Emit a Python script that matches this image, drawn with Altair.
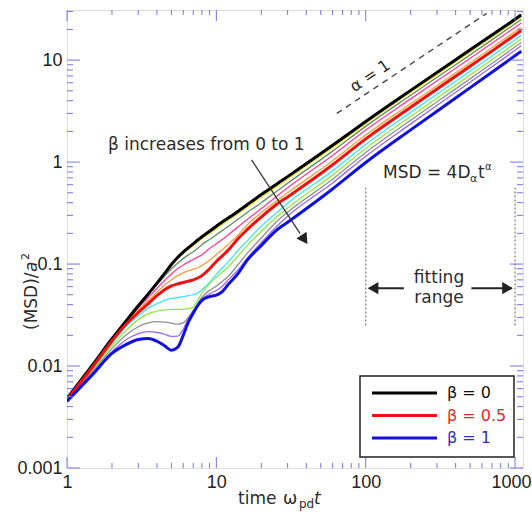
import altair as alt
import pandas as pd

# ---------------------------------------------------------------------------
# Mean-squared displacement curves, one per beta value (time in 1/omega_pd)
# ---------------------------------------------------------------------------
time_grid = [1, 1.5, 2, 2.5, 3, 3.5, 4, 4.5, 5, 5.5, 6, 6.5, 7, 7.5, 8, 9, 10,
             11, 12, 14, 16, 20, 25, 30, 60, 100, 200, 400, 700, 1100]

msd_b00 = [.0048, .0105, .0185, .028, .039, .051, .065, .081, .099, .116, .131, .145, .158, .172, .185, .21, .235,
           .26, .283, .33, .38, .48, .60, .72, 1.46, 2.5, 5.05, 10.1, 17.6, 27.7]
msd_b01 = [.0048, .0105, .0185, .028, .039, .051, .065, .080, .097, .113, .127, .140, .152, .165, .177, .199, .222,
           .245, .267, .312, .358, .452, .565, .68, 1.38, 2.38, 4.82, 9.6, 16.75, 26.4]
msd_b02 = [.0048, .0104, .0184, .0278, .0385, .050, .063, .076, .090, .102, .113, .123, .132, .143, .155, .174, .194,
           .214, .234, .276, .318, .40, .51, .62, 1.28, 2.24, 4.52, 9.0, 15.8, 25.0]
msd_b03 = [.0048, .0103, .0182, .0273, .037, .047, .058, .069, .080, .090, .098, .105, .111, .117, .123, .142, .158,
           .175, .193, .232, .272, .35, .455, .56, 1.16, 2.06, 4.17, 8.33, 14.62, 23.1]
msd_b04 = [.0047, .0102, .018, .0268, .0355, .044, .053, .062, .070, .077, .082, .086, .089, .092, .097, .109, .124,
           .139, .156, .193, .24, .32, .41, .50, 1.03, 1.84, 3.74, 7.5, 13.2, 21.0]
msd_b05 = [.0047, .0100, .0176, .026, .0335, .041, .049, .056, .061, .064, .066, .068, .070, .073, .077, .090, .106,
           .121, .137, .178, .216, .29, .38, .455, .94, 1.69, 3.45, 6.95, 12.25, 19.5]
msd_b06 = [.0047, .0098, .0168, .0245, .031, .037, .041, .044, .046, .047, .048, .049, .050, .052, .056, .066, .079,
           .092, .105, .137, .168, .236, .315, .395, .82, 1.49, 3.07, 6.2, 10.97, 17.5]
msd_b07 = [.0046, .0094, .0158, .0225, .0285, .0325, .0345, .0355, .036, .036, .036, .0365, .038, .044, .052, .064, .074,
           .084, .094, .12, .15, .21, .285, .355, .745, 1.36, 2.8, 5.68, 10.09, 16.1]
msd_b08 = [.0046, .0090, .0148, .0203, .0243, .0265, .0272, .0270, .0263, .0258, .0265, .030, .035, .041, .047, .055, .061,
           .068, .076, .099, .126, .18, .256, .322, .678, 1.24, 2.57, 5.22, 9.28, 14.85]
msd_b09 = [.0045, .0087, .0138, .0182, .0208, .0217, .0214, .0205, .0195, .0196, .023, .029, .035, .040, .045, .051, .055,
           .061, .070, .088, .113, .163, .23, .295, .625, 1.14, 2.37, 4.83, 8.61, 13.8]
msd_b10 = [.0045, .0084, .0133, .0163, .0182, .0186, .0175, .0158, .0143, .0152, .020, .027, .033, .039, .044, .048, .0495,
           .054, .063, .081, .108, .152, .212, .257, .545, .99, 2.07, 4.25, 7.6, 12.2]

beta_labels = ["0", "0.1", "0.2", "0.3", "0.4", "0.5", "0.6", "0.7", "0.8", "0.9", "1"]
beta_colors = ["#000000", "#e4e42a", "#5e8e5e", "#ff3d9a", "#ff9a3c", "#ee1111",
               "#40e6f0", "#8eec40", "#8f8f8f", "#9a66ee", "#1010e0"]
msd_series = [msd_b00, msd_b01, msd_b02, msd_b03, msd_b04, msd_b05,
              msd_b06, msd_b07, msd_b08, msd_b09, msd_b10]
bold_betas = ["0", "0.5", "1"]

# alpha = 1 guide line
guide_t = [64, 645]
guide_msd = [3.0, 28.7]

# fitting window
fit_t = [100, 1000]
fit_lo, fit_hi = 0.025, 0.56
fit_arrow_level = 0.058

# beta arrow
beta_arrow_t = [17.2, 36.3]
beta_arrow_msd = [1.05, 0.20]
beta_head = (38.3, 0.18)

# legend entries
legend_text = ["\u03b2 = 0", "\u03b2 = 0.5", "\u03b2 = 1"]
legend_color = ["#000000", "#ee1111", "#1010e0"]
legend_label_color = ["#111111", "#e02a2a", "#3030c8"]

# axis ticks
x_major = [1, 10, 100, 1000]
x_minor = [k * 10 ** e for e in range(0, 4) for k in range(2, 10) if k * 10 ** e <= 1130]
y_major = [0.001, 0.01, 0.1, 1, 10]
y_minor = [k * 10.0 ** e for e in range(-3, 2) for k in range(2, 10) if k * 10.0 ** e <= 31]

W, H = 456, 458
FONT = "DejaVu Sans"
TICK_FONT = "Liberation Sans"
FRAME = "#7474ea"
INK = "#2b2b2b"

rows = []
for lab, series in zip(beta_labels, msd_series):
    for t, v in zip(time_grid, series):
        rows.append({"t": t, "msd": v, "beta": lab})
curves = pd.DataFrame(rows)

x_scale = alt.Scale(type="log", domain=[1, 1130], nice=False)
y_scale = alt.Scale(type="log", domain=[0.001, 31], nice=False)

axis_x = alt.Axis(values=x_major, format="~g", domain=False, ticks=False, grid=False,
                  labelFont=TICK_FONT, labelFontSize=18, labelColor="#222222", labelPadding=5,
                  labelFlush=False, title=None,
                  labelOffset={"condition": {"test": "datum.value >= 1000", "value": -4}, "value": 0})
axis_y = alt.Axis(values=y_major, format="~g", domain=False, ticks=False, grid=False,
                  labelFont=TICK_FONT, labelFontSize=18, labelColor="#222222", labelPadding=5,
                  labelFlush=False, title=None, labelBaseline="middle")


def X(field):
    return alt.X(field, scale=x_scale, axis=axis_x)


def Y(field):
    return alt.Y(field, scale=y_scale, axis=axis_y)


color = alt.Color("beta:N", scale=alt.Scale(domain=beta_labels, range=beta_colors), legend=None)

thin = (
    alt.Chart(curves[~curves["beta"].isin(bold_betas)])
    .mark_line(strokeWidth=1.3, interpolate="monotone", clip=True)
    .encode(x=X("t:Q"), y=Y("msd:Q"), color=color, detail="beta:N")
)

thick = (
    alt.Chart(curves[curves["beta"].isin(bold_betas)])
    .mark_line(interpolate="monotone", clip=True)
    .encode(
        x=X("t:Q"), y=Y("msd:Q"), color=color,
        strokeWidth=alt.StrokeWidth("beta:N", scale=alt.Scale(domain=bold_betas, range=[3.0, 3.0, 3.8]),
                                    legend=None),
        detail="beta:N",
    )
)

guide = (
    alt.Chart(pd.DataFrame({"t": guide_t, "msd": guide_msd}))
    .mark_line(color="#444444", strokeWidth=1.4, strokeDash=[6, 5])
    .encode(x=X("t:Q"), y=Y("msd:Q"))
)

fit_lines = (
    alt.Chart(pd.DataFrame({"t": fit_t, "lo": [fit_lo] * 2, "hi": [fit_hi] * 2}))
    .mark_rule(color="#777777", strokeWidth=1.2, strokeDash=[2, 2])
    .encode(x=X("t:Q"), y=Y("lo:Q"), y2="hi:Q")
)

fit_shafts = (
    alt.Chart(pd.DataFrame({"t0": [105, 510], "t1": [180, 950], "v": [fit_arrow_level] * 2}))
    .mark_rule(color="#222222", strokeWidth=2)
    .encode(x=X("t0:Q"), x2="t1:Q", y=Y("v:Q"))
)

fit_heads = (
    alt.Chart(pd.DataFrame({"t": [112, 890], "v": [fit_arrow_level] * 2,
                            "shape": ["triangle-left", "triangle-right"]}))
    .mark_point(filled=True, color="#222222", opacity=1, size=150)
    .encode(x=X("t:Q"), y=Y("v:Q"), shape=alt.Shape("shape:N", scale=None))
)

beta_shaft = (
    alt.Chart(pd.DataFrame({"t": beta_arrow_t, "msd": beta_arrow_msd}))
    .mark_line(color="#333333", strokeWidth=1.3)
    .encode(x=X("t:Q"), y=Y("msd:Q"))
)

beta_tip = (
    alt.Chart(pd.DataFrame({"t": [beta_head[0]], "msd": [beta_head[1]]}))
    .mark_point(shape="triangle", filled=True, color="#222222", opacity=1, size=150, angle=146)
    .encode(x=X("t:Q"), y=Y("msd:Q"))
)

one = pd.DataFrame({"k": [0]})


def text(s, x, y, size=17, color=INK, align="left", baseline="alphabetic", **kw):
    return (
        alt.Chart(one)
        .mark_text(text=s, font=FONT, fontSize=size, color=color, align=align, baseline=baseline, **kw)
        .encode(x=alt.value(x), y=alt.value(y))
    )


def rules_y(vals, x0, x1):
    return (
        alt.Chart(pd.DataFrame({"v": vals}))
        .mark_rule(color=FRAME, strokeWidth=1)
        .encode(y=Y("v:Q"), x=alt.value(x0), x2=alt.value(x1))
    )


def rules_x(vals, y0, y1):
    return (
        alt.Chart(pd.DataFrame({"v": vals}))
        .mark_rule(color=FRAME, strokeWidth=1)
        .encode(x=X("v:Q"), y=alt.value(y0), y2=alt.value(y1))
    )


ticks = [
    rules_y(y_major, 0, 13), rules_y(y_minor, 0, 6),
    rules_y(y_major, W, W - 13), rules_y(y_minor, W, W - 6),
    rules_x(x_major, H, H - 11), rules_x(x_minor, H, H - 5),
    rules_x(x_major, 0, 11), rules_x(x_minor, 0, 5),
]

annotations = [
    text("\u03b2 increases from 0 to 1", 41, 140, 17),
    text("\u03b1 = 1", 303, 66, 16, align="center", baseline="middle", angle=326),
    text("MSD = 4D", 316, 168, 17),
    text("\u03b1", 403, 172, 11),
    text("t", 411, 168, 17),
    text("\u03b1", 418, 160, 10),
    text("fitting", 372, 273, 17, align="center"),
    text("range", 372, 293, 17, align="center"),
    # axis titles
    text("time", 171, 494, 17),
    text("\u03c9", 216, 494, 17),
    text("pd", 232, 498, 12),
    text("t", 247, 494, 17, fontStyle="italic"),
    text("(MSD)/", -30, 320, 17, angle=270),
    text("a", -30, 262, 17, angle=270, fontStyle="italic"),
    text("2", -38, 250, 11, angle=270),
]

# legend panel
legend_box = (
    alt.Chart(one)
    .mark_rect(fill="white", stroke="#222222", strokeWidth=1.5)
    .encode(x=alt.value(293), x2=alt.value(447), y=alt.value(366), y2=alt.value(447))
)
legend_layers = [legend_box]
for i, (lab, col, lcol) in enumerate(zip(legend_text, legend_color, legend_label_color)):
    yy = 383 + 22.5 * i
    legend_layers.append(
        alt.Chart(one).mark_rule(color=col, strokeWidth=3.2)
        .encode(x=alt.value(305), x2=alt.value(370), y=alt.value(yy))
    )
    legend_layers.append(text(lab, 380, yy, 16, color=lcol, baseline="middle"))

chart = (
    alt.layer(thin, thick, guide, fit_lines, fit_shafts, fit_heads, beta_shaft, beta_tip,
              *ticks, *annotations, *legend_layers)
    .properties(width=W, height=H, padding={"left": 67, "top": 10, "right": 9, "bottom": 44},
                autosize=alt.AutoSizeParams(type="none"))
    .configure_view(stroke=FRAME, strokeWidth=1.6)
    .configure(background="white")
)

chart.save("out.html", embed_options={"renderer": "svg", "actions": False})
